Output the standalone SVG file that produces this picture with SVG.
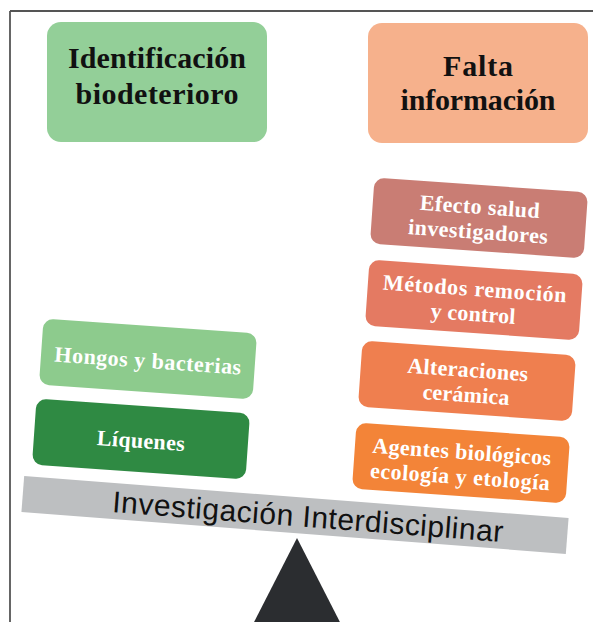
<svg xmlns="http://www.w3.org/2000/svg" width="593" height="622" viewBox="0 0 593 622">
<style>
.frame{stroke:#555;stroke-width:1.8;fill:none}
.head{font-family:"Liberation Serif","Times New Roman",serif;font-weight:bold;font-size:30px;fill:#111;text-anchor:middle}
.lbl{font-family:"Liberation Serif","Times New Roman",serif;font-weight:bold;font-size:22px;fill:#fff;text-anchor:middle}
.bar{font-family:"Liberation Sans",Arial,sans-serif;font-size:30px;fill:#111}
</style>
<rect width="593" height="622" fill="#fff"/>
<g id="frame">
<line class="frame" x1="10" y1="11" x2="593" y2="11"/>
<line class="frame" x1="10" y1="11" x2="10" y2="622"/>
</g>
<g id="identificacion">
<rect x="47" y="22" width="220" height="120" rx="14" fill="#93cf98"/>
<text class="head" x="157" y="68" textLength="178" lengthAdjust="spacing">Identificación</text>
<text class="head" x="157" y="104" textLength="163" lengthAdjust="spacing">biodeterioro</text>
</g>
<g id="falta">
<rect x="368" y="23" width="220" height="120" rx="14" fill="#f6b18c"/>
<text class="head" x="478" y="76" textLength="70" lengthAdjust="spacing">Falta</text>
<text class="head" x="478" y="110" textLength="155" lengthAdjust="spacing">información</text>
</g>
<g id="efecto" transform="rotate(4 479 218)">
<rect x="372" y="185" width="214" height="66" rx="10" fill="#c97d74"/>
<text class="lbl" x="479" y="214" textLength="120" lengthAdjust="spacing">Efecto salud</text>
<text class="lbl" x="479" y="239" textLength="140" lengthAdjust="spacing">investigadores</text>
</g>
<g id="metodos" transform="rotate(4 474 300)">
<rect x="367" y="267" width="214" height="66" rx="10" fill="#e47a62"/>
<text class="lbl" x="474" y="296" textLength="184" lengthAdjust="spacing">Métodos remoción</text>
<text class="lbl" x="474" y="321" textLength="85" lengthAdjust="spacing">y control</text>
</g>
<g id="alteraciones" transform="rotate(4 467 381)">
<rect x="360" y="348" width="214" height="66" rx="10" fill="#ef7f4f"/>
<text class="lbl" x="467" y="377" textLength="121" lengthAdjust="spacing">Alteraciones</text>
<text class="lbl" x="467" y="402" textLength="87" lengthAdjust="spacing">cerámica</text>
</g>
<g id="agentes" transform="rotate(4 461 463)">
<rect x="354" y="430" width="214" height="66" rx="10" fill="#f38438"/>
<text class="lbl" x="461" y="459" textLength="179" lengthAdjust="spacing">Agentes biológicos</text>
<text class="lbl" x="461" y="484" textLength="180" lengthAdjust="spacing">ecología y etología</text>
</g>
<g id="hongos" transform="rotate(4 148 359)">
<rect x="41" y="326" width="214" height="66" rx="10" fill="#8dcb8d"/>
<text class="lbl" x="148" y="368" font-size="23" textLength="187" lengthAdjust="spacing">Hongos y bacterias</text>
</g>
<g id="liquenes" transform="rotate(4 141 439)">
<rect x="34" y="406" width="214" height="66" rx="10" fill="#2f8a43"/>
<text class="lbl" x="141" y="448" font-size="23" textLength="88" lengthAdjust="spacing">Líquenes</text>
</g>
<g id="investigacion" transform="rotate(4.4 295 515)">
<rect x="22" y="497" width="546" height="36" fill="#bdbfc1"/>
<text class="bar" x="112" y="526" textLength="392" lengthAdjust="spacing">Investigación Interdisciplinar</text>
</g>
<g id="fulcro">
<polygon points="297,538 344,630 250,630" fill="#2b2d30"/>
</g>
</svg>
